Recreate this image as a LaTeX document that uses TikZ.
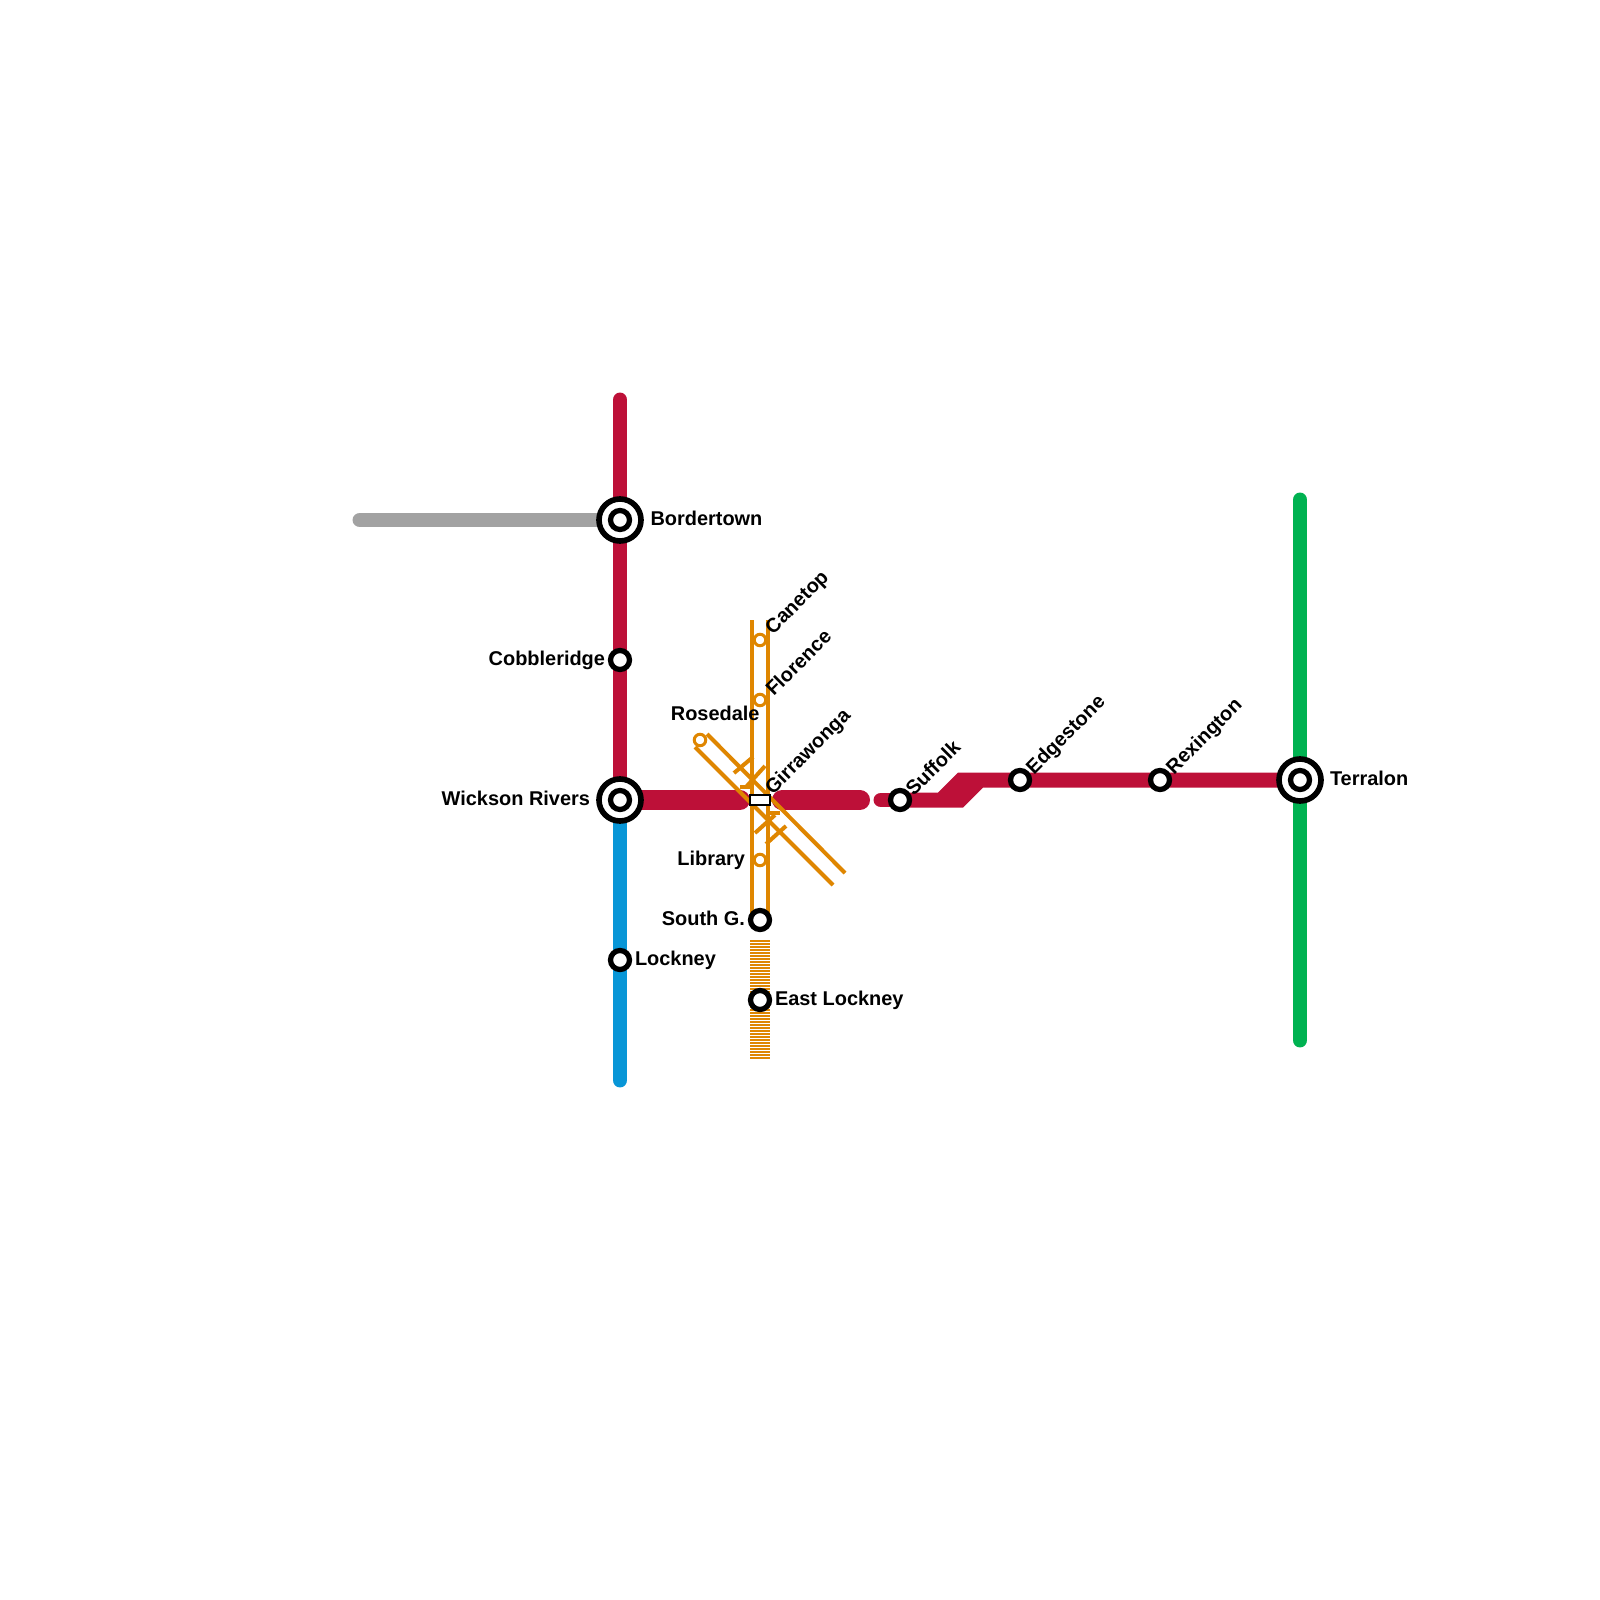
\documentclass[tikz,border=0pt]{standalone}
\usepackage{fontspec}
\setmainfont{Liberation Sans}
\usepackage{tikz}
\usetikzlibrary{positioning,calc}

\definecolor{redline}{HTML}{BD1038}
\definecolor{greyline}{HTML}{A2A2A2}
\definecolor{blueline}{HTML}{0896D7}
\definecolor{greenline}{HTML}{00B251}
\definecolor{orangeline}{HTML}{DF8600}

\begin{document}
\begin{tikzpicture}[x=0.01cm,y=-0.01cm,
  every node/.style={font=\bfseries\fontsize{5.67}{7}\selectfont, text=black, inner sep=0pt, outer sep=0pt},
  metro/.style={line width=4.25pt, line cap=round},
  wide/.style={line width=5.7pt, line cap=round, redline},
  rail/.style={line width=1.14pt, orangeline},
  hub/.style={circle, draw=black, fill=white, line width=1.6pt, minimum size=0.42cm},
  hubcore/.style={circle, draw=black, fill=white, line width=1.5pt, minimum size=0.19cm},
  dot/.style={circle, draw=black, fill=white, line width=1.5pt, minimum size=0.19cm},
  halt/.style={circle, draw=orangeline, fill=white, line width=0.85pt, minimum size=0.115cm}
]
\useasboundingbox (0,0) rectangle (1600,1600);

% Stations
\coordinate (redtop) at (620,400);
\coordinate (greyend) at (360,520);
\coordinate (blueend) at (620,1080);
\coordinate (greentop) at (1300,500);
\coordinate (greenend) at (1300,1040);
\coordinate (bordertown) at (620,520);
\coordinate (wickson) at (620,800);
\coordinate (terralon) at (1300,780);

% Lines
\draw[metro, greyline] (greyend) -- (bordertown);
\draw[metro, redline] (redtop) -- (wickson);
\draw[metro, blueline] (wickson) -- (blueend);
\draw[metro, greenline] (greentop) -- (greenend);
\draw[wide] (wickson) -- (740,800);
\draw[wide] (782,800) -- (860,800);
\draw[metro, redline] (881,800) -- (900,800);
\fill[redline] (900,792.5) -- (938,792.5) -- (958,772.5) -- (1300,772.5) -- (1300,787.5)
  -- (983,787.5) -- (963,807.5) -- (900,807.5) -- cycle;

% Orange
\draw[rail] (752,620) -- (752,920);
\draw[rail] (768,620) -- (768,920);
\draw[rail] (707,734) -- (845,873);
\draw[rail] (695,747) -- (833,885);
\draw[rail] (734,773) -- (753,757);
\draw[rail] (746,787) -- (765,766);
\draw[rail] (740,787) -- (752,787);
\draw[rail] (755,833) -- (775,815);
\draw[rail] (766,844) -- (786,826);
\draw[rail] (768,813) -- (780,813);
\foreach \y in {941,944,...,1060} {
  \draw[orangeline, line width=0.5pt] (750,\y) -- (770,\y);
}

% Nodes
\node[hub] (bordertownring) at (bordertown) {};
\node[hub] (wicksonring) at (wickson) {};
\node[hub] (terralonring) at (terralon) {};
\node[hubcore] (bordertowncore) at (bordertown) {};
\node[hubcore] (wicksoncore) at (wickson) {};
\node[hubcore] (terraloncore) at (terralon) {};
\node[dot] (cobble) at (620,660) {};
\node[dot] (lockney) at (620,960) {};
\node[dot] (suffolk) at (900,800) {};
\node[dot] (edge) at (1020,780) {};
\node[dot] (rex) at (1160,780) {};
\node[dot] (southg) at (760,920) {};
\node[dot] (eastl) at (760,1000) {};
\node[halt] (canetop) at (760,640) {};
\node[halt] (florence) at (760,700) {};
\node[halt] (rosedale) at (700,740) {};
\node[halt] (library) at (760,860) {};
\node[draw=black, fill=white, line width=0.57pt, minimum width=0.2cm, minimum height=0.1cm] (girra) at (760,800) {};

% Labels
\node[anchor=west] at (650.5,518) {Bordertown};
\node[anchor=east] at (605,660) {Cobbleridge};
\node[anchor=east] at (590,798) {Wickson Rivers};
\node[anchor=west] at (635,960) {Lockney};
\node[anchor=east] at (745,860) {Library};
\node[anchor=east] at (745,918) {South G.};
\node[anchor=west] at (775,1000) {East Lockney};
\node[anchor=west] at (1330,778) {Terralon};
\node[anchor=east] at (759.5,713) {Rosedale};
\node[anchor=south west, rotate=45] at (776,638) {Canetop};
\node[anchor=south west, rotate=45] at (774,697) {Florence};
\node[anchor=south west, rotate=45] at (776,798) {Girrawonga};
\node[anchor=south west, rotate=45] at (914,797) {Suffolk};
\node[anchor=south west, rotate=45] at (1037,778) {Edgestone};
\node[anchor=south west, rotate=45] at (1177,778) {Rexington};

\end{tikzpicture}
\end{document}
